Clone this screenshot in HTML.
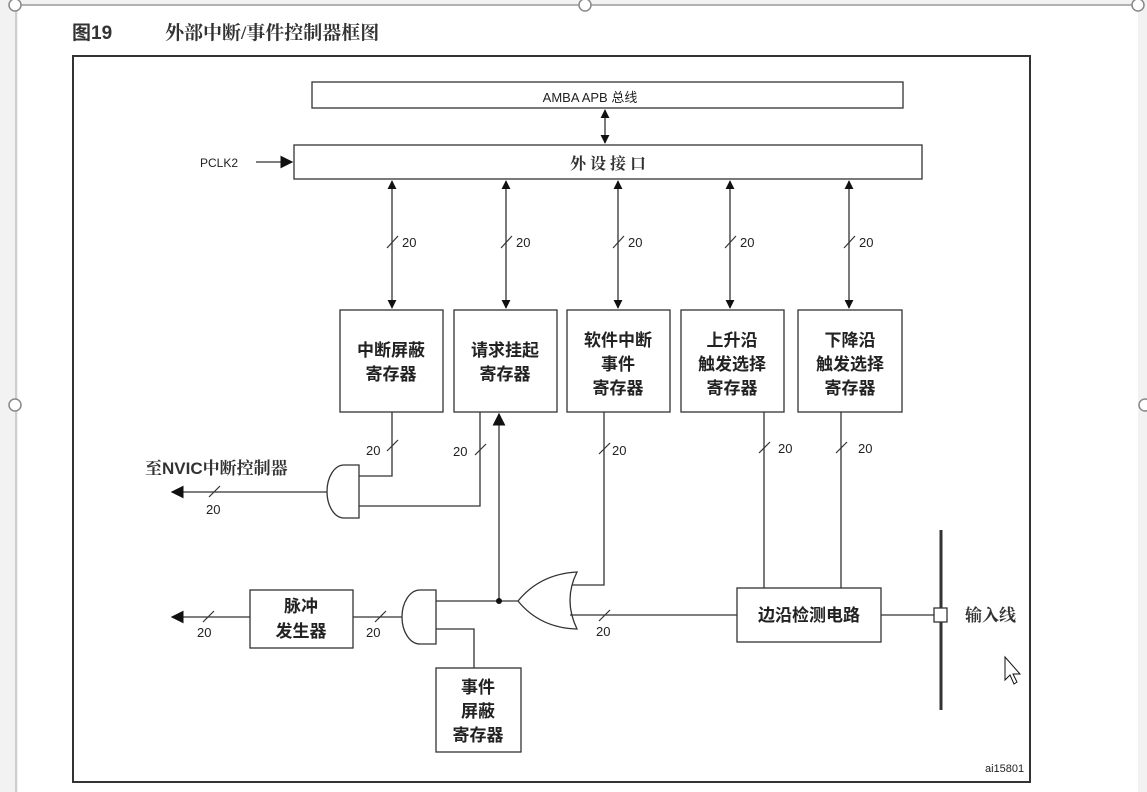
<!DOCTYPE html>
<html><head><meta charset="utf-8"><style>
html,body{margin:0;padding:0;background:#fff;width:1147px;height:792px;overflow:hidden}
svg{display:block}
text{font-family:"Liberation Sans","Noto Sans CJK SC",sans-serif;fill:#222}
.c{font-family:"Liberation Serif","Noto Serif CJK SC",serif;font-size:17px;font-weight:bold;fill:#333}
.n{font-size:13px}
</style></head><body>
<svg width="1147" height="792" viewBox="0 0 1147 792">
<defs>
<marker id="a" viewBox="0 0 10 10" refX="9" refY="5" markerWidth="9" markerHeight="9" markerUnits="userSpaceOnUse" orient="auto-start-reverse"><path d="M0,0L10,5L0,10z" fill="#111"/></marker>
<marker id="b" viewBox="0 0 10 10" refX="9" refY="5" markerWidth="13" markerHeight="13" markerUnits="userSpaceOnUse" orient="auto-start-reverse"><path d="M0,0L10,5L0,10z" fill="#111"/></marker>
</defs>
<rect width="1147" height="792" fill="#f2f2f2"/>
<rect x="18" y="5" width="1120" height="787" fill="#fff"/>
<line x1="15" y1="5" x2="1135" y2="5" stroke="#999" stroke-width="1.5"/>
<line x1="16" y1="5" x2="16" y2="792" stroke="#aaa" stroke-width="1"/>
<g fill="#fff" stroke="#888" stroke-width="1.5"><circle cx="15" cy="5" r="6"/><circle cx="585" cy="5" r="6"/><circle cx="1138" cy="5" r="6"/><circle cx="15" cy="405" r="6"/><circle cx="1145" cy="405" r="6"/></g>
<text x="72" y="39" style="font-size:19px;font-weight:bold;fill:#333">图19</text>
<text x="165" y="39" class="c" style="font-size:19px">外部中断/事件控制器框图</text>
<g fill="none" stroke="#333" stroke-width="1.3">
<rect x="73" y="56" width="957" height="726" stroke-width="2"/>
<rect x="312" y="82" width="591" height="26"/>
<rect x="294" y="145" width="628" height="34"/>
<rect x="340" y="310" width="103" height="102"/>
<rect x="454" y="310" width="103" height="102"/>
<rect x="567" y="310" width="103" height="102"/>
<rect x="681" y="310" width="103" height="102"/>
<rect x="798" y="310" width="104" height="102"/>
<rect x="737" y="588" width="144" height="54"/>
<rect x="250" y="590" width="103" height="58"/>
<rect x="436" y="668" width="85" height="84"/>
<line x1="605" y1="110" x2="605" y2="143" marker-start="url(#a)" marker-end="url(#a)"/>
<line x1="256" y1="162" x2="292" y2="162" marker-end="url(#b)"/>
<line x1="392" y1="181" x2="392" y2="308" marker-start="url(#a)" marker-end="url(#a)"/>
<line x1="506" y1="181" x2="506" y2="308" marker-start="url(#a)" marker-end="url(#a)"/>
<line x1="618" y1="181" x2="618" y2="308" marker-start="url(#a)" marker-end="url(#a)"/>
<line x1="730" y1="181" x2="730" y2="308" marker-start="url(#a)" marker-end="url(#a)"/>
<line x1="849" y1="181" x2="849" y2="308" marker-start="url(#a)" marker-end="url(#a)"/>
<g stroke-width="1.2"><line x1="387" y1="248" x2="398" y2="236"/><line x1="501" y1="248" x2="512" y2="236"/><line x1="613" y1="248" x2="624" y2="236"/><line x1="725" y1="248" x2="736" y2="236"/><line x1="844" y1="248" x2="855" y2="236"/>
<line x1="387" y1="451" x2="398" y2="440"/><line x1="475" y1="455" x2="486" y2="444"/><line x1="599" y1="454" x2="610" y2="443"/><line x1="759" y1="453" x2="770" y2="442"/><line x1="836" y1="453" x2="847" y2="442"/>
<line x1="209" y1="497" x2="220" y2="486"/><line x1="375" y1="622" x2="386" y2="611"/><line x1="203" y1="622" x2="214" y2="611"/><line x1="599" y1="621" x2="610" y2="610"/></g>
<polyline points="392,412 392,476 359,476"/>
<polyline points="480,412 480,506 359,506"/>
<path d="M359,465 L359,518 L344,518 A17,26.5 0 0 1 344,465 Z"/>
<line x1="327" y1="492" x2="172" y2="492" marker-end="url(#b)"/>
<line x1="499" y1="601" x2="499" y2="414" marker-end="url(#b)"/>
<polyline points="604,412 604,585 572,585"/>
<path d="M577,572 Q540,574 518,601 Q540,628 577,629 Q563,600 577,572 Z"/>
<line x1="570" y1="615" x2="737" y2="615"/>
<polyline points="764,412 764,588"/><polyline points="841,412 841,588"/>
<line x1="881" y1="615" x2="934" y2="615"/>
<line x1="941" y1="530" x2="941" y2="710" stroke-width="3"/>
<rect x="934" y="608" width="13" height="14" fill="#fff"/>
<line x1="436" y1="601" x2="518" y2="601"/>
<path d="M436,590 L436,644 L420,644 A18,27 0 0 1 420,590 Z"/>
<polyline points="436,629 474,629 474,668"/>
<line x1="402" y1="617" x2="353" y2="617"/>
<line x1="250" y1="617" x2="172" y2="617" marker-end="url(#b)"/>
</g>
<circle cx="499" cy="601" r="3" fill="#111"/>
<text x="590" y="102" text-anchor="middle" style="font-size:13px">AMBA APB 总线</text>
<text x="608" y="169" text-anchor="middle" class="c" style="font-size:16px">外 设 接 口</text>
<text x="200" y="167" class="n" style="font-size:12px">PCLK2</text>
<g class="n"><text x="402" y="247">20</text><text x="516" y="247">20</text><text x="628" y="247">20</text><text x="740" y="247">20</text><text x="859" y="247">20</text>
<text x="366" y="455">20</text><text x="453" y="456">20</text><text x="612" y="455">20</text><text x="778" y="453">20</text><text x="858" y="453">20</text>
<text x="206" y="514">20</text><text x="197" y="637">20</text><text x="366" y="637">20</text><text x="596" y="636">20</text></g>
<g class="c" text-anchor="middle">
<text x="391" y="356">中断屏蔽</text><text x="391" y="380">寄存器</text>
<text x="505" y="356">请求挂起</text><text x="505" y="380">寄存器</text>
<text x="618" y="346">软件中断</text><text x="618" y="370">事件</text><text x="618" y="394">寄存器</text>
<text x="732" y="346">上升沿</text><text x="732" y="370">触发选择</text><text x="732" y="394">寄存器</text>
<text x="850" y="346">下降沿</text><text x="850" y="370">触发选择</text><text x="850" y="394">寄存器</text>
<text x="809" y="621">边沿检测电路</text>
<text x="301" y="612">脉冲</text><text x="301" y="637">发生器</text>
<text x="478" y="693">事件</text><text x="478" y="717">屏蔽</text><text x="478" y="741">寄存器</text>
</g>
<text x="145" y="474" class="c" style="font-size:17px">至<tspan font-family="Liberation Sans" font-weight="bold">NVIC</tspan>中断控制器</text>
<text x="965" y="621" class="c">输入线</text>
<text x="985" y="772" style="font-size:11px">ai15801</text>
<path d="M1005,657 L1005,680 L1010,675 L1014,684 L1017,682 L1013,674 L1020,674 Z" fill="#fff" stroke="#111" stroke-width="1"/>
</svg>
</body></html>
